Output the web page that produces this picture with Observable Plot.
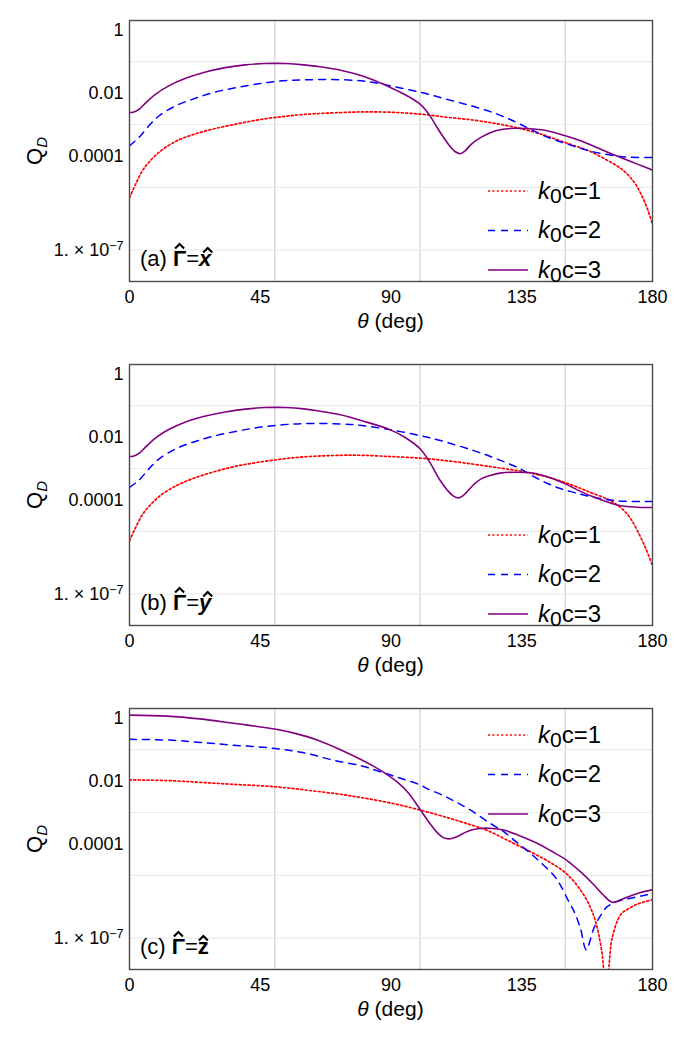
<!DOCTYPE html>
<html>
<head>
<meta charset="utf-8">
<script src="https://cdn.jsdelivr.net/npm/d3@7"></script>
<script src="https://cdn.jsdelivr.net/npm/@observablehq/plot@0.6"></script>
<style>
  html, body { margin: 0; padding: 0; background: #fff; }
  #chart svg { display: block; }
</style>
</head>
<body>
<div id="chart"></div>
<script>
// ---------------- data (theta in degrees, log10 of Q_D) ----------------
const seriesNames = ["k0c=1", "k0c=2", "k0c=3"];
const xTicks = [0, 45, 90, 135, 180];
const xGrid = [50, 100, 150];
const yTicks = [1, 0.01, 1e-4, 1e-7];
const yGrid = [1e-1, 1e-3, 1e-5, 1e-7];
const panelTags = ["(a) ", "(b) ", "(c) "];
const panelVectors = ["x", "y", "z"];

// panel (a)  Γ = x
const aRed = [[0,-5.33],[2.1,-4.9],[4.4,-4.48],[6.6,-4.21],[10.1,-3.89],[15.8,-3.54],[21.6,-3.33],[28.5,-3.15],[36.5,-2.99],[44.5,-2.85],[52.5,-2.75],[60,-2.68],[72.6,-2.62],[80,-2.6],[90,-2.61],[100,-2.67],[109.3,-2.77],[118.5,-2.86],[126,-2.97],[132.2,-3.08],[140,-3.26],[149.5,-3.56],[158.6,-3.86],[164.4,-4.14],[168,-4.33],[171,-4.55],[174,-4.88],[176.5,-5.3],[178.5,-5.75],[180,-6.18]];
const aBlue = [[0,-3.68],[3.2,-3.42],[6.6,-3.05],[10.1,-2.73],[15.8,-2.41],[21.6,-2.2],[28.5,-1.99],[36.5,-1.83],[44.5,-1.7],[52.5,-1.61],[60,-1.58],[70,-1.57],[80,-1.61],[86.4,-1.7],[89.8,-1.77],[100,-1.97],[109.3,-2.2],[118.5,-2.43],[126,-2.65],[132.2,-2.89],[138,-3.15],[143.7,-3.4],[150,-3.6],[155.2,-3.76],[160,-3.88],[166.7,-3.99],[172,-4.04],[180,-4.05]];
const aPurple = [[0,-2.62],[1.5,-2.6],[3.5,-2.5],[5.5,-2.32],[8.9,-2.04],[13.5,-1.77],[19.3,-1.53],[26.2,-1.33],[33,-1.19],[39.9,-1.1],[46.8,-1.06],[53.7,-1.06],[60,-1.1],[64.6,-1.15],[72.6,-1.27],[80,-1.45],[86.4,-1.68],[90,-1.83],[95,-2.06],[100.1,-2.36],[103,-2.67],[105.9,-3.1],[108,-3.4],[110,-3.66],[112,-3.86],[113.9,-3.93],[115.5,-3.84],[117.5,-3.64],[120.8,-3.42],[124.2,-3.26],[128,-3.16],[132.2,-3.12],[137,-3.13],[143.7,-3.2],[150,-3.36],[155.2,-3.52],[160,-3.7],[165,-3.9],[169,-4.05],[175,-4.27],[180,-4.45]];

// panel (b)  Γ = y
const bRed = [[0,-5.3],[2.1,-4.88],[4.4,-4.48],[6.6,-4.22],[10.1,-3.9],[15.8,-3.56],[21.6,-3.33],[28.5,-3.12],[36.5,-2.93],[44.5,-2.8],[52.5,-2.7],[60,-2.63],[72.6,-2.58],[80,-2.58],[89.8,-2.62],[100,-2.67],[107,-2.73],[115,-2.82],[124.2,-2.94],[130,-3.02],[136.8,-3.12],[145,-3.3],[152.9,-3.55],[158,-3.74],[164.4,-3.97],[167.5,-4.14],[170.2,-4.34],[172.5,-4.6],[174.8,-4.98],[177.5,-5.51],[180,-6.09]];
const bBlue = [[0,-3.6],[3.2,-3.38],[6.6,-3.02],[10.1,-2.7],[15.8,-2.38],[21.6,-2.17],[28.5,-1.98],[36.5,-1.82],[44.5,-1.69],[52.5,-1.61],[60,-1.57],[72.6,-1.58],[80,-1.63],[89.8,-1.77],[100,-1.95],[107,-2.11],[118.5,-2.43],[126,-2.68],[134.5,-3.01],[139,-3.25],[143.7,-3.47],[148,-3.63],[152.9,-3.76],[158,-3.88],[164.4,-3.99],[170,-4.04],[180,-4.05]];
const bPurple = [[0,-2.62],[1.5,-2.6],[3.5,-2.5],[5.5,-2.32],[8.9,-2.03],[13.5,-1.76],[19.3,-1.52],[26.2,-1.33],[33,-1.2],[39.9,-1.11],[46.8,-1.06],[53.7,-1.06],[60,-1.1],[64.6,-1.16],[72.6,-1.29],[80,-1.48],[89.8,-1.77],[95,-2.02],[100,-2.37],[103,-2.75],[107,-3.39],[109.5,-3.7],[111.5,-3.88],[113.3,-3.94],[115,-3.85],[118.5,-3.51],[121,-3.33],[124.2,-3.22],[128,-3.14],[132.3,-3.12],[139.2,-3.15],[145,-3.3],[150,-3.49],[155,-3.72],[159.8,-3.91],[164,-4.05],[167.8,-4.16],[172,-4.22],[176,-4.24],[180,-4.24]];

// panel (c)  Γ = z
const cRed = [[0,-1.96],[15,-1.99],[24.3,-2.04],[35,-2.1],[50,-2.18],[62,-2.3],[72.6,-2.42],[80,-2.53],[90,-2.7],[100,-2.92],[110,-3.18],[117,-3.38],[123.1,-3.57],[130,-3.88],[138,-4.25],[144,-4.55],[149.5,-4.88],[153,-5.2],[156.3,-5.62],[158.5,-6.0],[160.4,-6.47],[162.7,-7.53],[164,-9.0],[165.3,-7.6],[166.1,-7.0],[169,-6.26],[172,-6.05],[174.7,-5.92],[177,-5.85],[180,-5.78]];
const cBlue = [[0,-0.67],[15,-0.7],[24.3,-0.77],[35,-0.85],[50,-0.96],[60,-1.1],[70,-1.33],[80,-1.52],[86.3,-1.7],[93,-1.9],[100,-2.12],[102.4,-2.24],[108,-2.46],[112.6,-2.68],[117.3,-2.92],[124.2,-3.35],[128.8,-3.61],[133,-3.93],[138,-4.3],[141.4,-4.58],[146,-5.0],[148.3,-5.31],[151.2,-5.84],[153,-6.15],[155.2,-6.69],[157.2,-7.37],[159.8,-6.69],[162,-6.3],[164.4,-6.0],[168,-5.83],[171.3,-5.75],[175,-5.68],[178.1,-5.62],[180,-5.6]];
const cPurple = [[0,0.10],[13,0.07],[24.3,-0.02],[35.8,-0.16],[50,-0.34],[57,-0.48],[64.6,-0.69],[72.6,-1.0],[80,-1.33],[86.3,-1.65],[92,-2.02],[96,-2.38],[100,-2.9],[103,-3.3],[106,-3.65],[108,-3.8],[109.9,-3.84],[112,-3.8],[115,-3.66],[118,-3.55],[121.9,-3.5],[125,-3.51],[128.8,-3.56],[134,-3.73],[140.3,-3.98],[145,-4.22],[150.6,-4.53],[155,-4.87],[159.8,-5.3],[163,-5.62],[166.1,-5.86],[169,-5.78],[173.5,-5.62],[177,-5.52],[180,-5.46]];

// ---------------- styling ----------------
const FONT = "'Liberation Sans', Arial, Helvetica, sans-serif";
const colors = ["#ff0000", "#0000ff", "#800080"];
const dashes = ["2,2.4", "7,6", null];
const widths = [1.7, 1.5, 1.6];

const rows = arr => arr.map(([t, L]) => ({t, q: Math.pow(10, L)}));
const fmt = d => d === 1e-7 ? "SCI7" : d === 1 ? "1" : d === 0.01 ? "0.01" : "0.0001";
const chart = document.getElementById("chart");

function hat(s, cx, yApex, w, h) {
  s.append("path")
    .attr("d", `M${cx - w / 2},${yApex + h}L${cx},${yApex}L${cx + w / 2},${yApex + h}`)
    .attr("fill", "none").attr("stroke", "#000").attr("stroke-width", 2.1)
    .attr("stroke-linejoin", "miter");
}

function makePanel(seriesList, idx, legendYs) {
  const svg = Plot.plot({
    width: 692, height: 344,
    marginLeft: 129, marginRight: 40, marginTop: 20, marginBottom: 63,
    style: {fontFamily: FONT, color: "#000", background: "#fff"},
    x: {domain: [0, 180]},
    y: {type: "log", domain: [1e-8, 2.05]},
    marks: [
      Plot.gridX(xGrid, {stroke: "#cfcfcf", strokeOpacity: 1, strokeWidth: 1.2}),
      Plot.gridY(yGrid, {stroke: "#ececec", strokeOpacity: 1, strokeWidth: 1.2}),
      ...seriesList.map((arr, i) => Plot.line(rows(arr), {
        x: "t", y: "q", stroke: colors[i], strokeWidth: widths[i],
        strokeDasharray: dashes[i], curve: "catmull-rom", clip: true
      })),
      Plot.frame({stroke: "#4a4a4a", strokeWidth: 1.4}),
      Plot.axisX(xTicks, {tickSize: 0, tickPadding: 9, fontSize: 18, label: null}),
      Plot.axisY(yTicks, {tickSize: 0, tickPadding: 6, fontSize: 18, label: null, tickFormat: fmt})
    ]
  });
  chart.append(svg);
  const s = d3.select(svg);
  // scientific tick label
  s.selectAll("text").filter(function() { return this.textContent === "SCI7"; })
    .each(function() {
      const t = d3.select(this);
      t.text("");
      t.append("tspan").text("1. \u00d7 10");
      t.append("tspan").attr("dy", "-0.45em").attr("font-size", 12.5).text("\u22127");
    });
  // y label
  const yl = s.append("text").attr("transform", "translate(42,151) rotate(-90)")
    .attr("text-anchor", "middle").attr("font-size", 22).attr("font-family", FONT);
  yl.append("tspan").text("Q");
  yl.append("tspan").attr("dy", 5).attr("font-size", 15).attr("font-style", "italic").text("D");
  // x label
  const xl = s.append("text").attr("x", 390.5).attr("y", 328).attr("text-anchor", "middle")
    .attr("font-size", 21).attr("font-family", FONT);
  xl.append("tspan").attr("font-style", "italic").text("\u03b8");
  xl.append("tspan").text(" (deg)");
  // panel tag  (a) Γ̂ = x̂
  const x0 = 140, base = 266;
  const tg = s.append("text").attr("x", x0).attr("y", base).attr("text-anchor", "start")
    .attr("font-size", 22).attr("font-family", FONT).style("white-space", "pre");
  const t1 = tg.append("tspan").text(panelTags[idx]);
  const t2 = tg.append("tspan").attr("font-weight", "bold").text("\u0393");
  const t3 = tg.append("tspan").text("=");
  const t4 = tg.append("tspan").attr("font-weight", "bold").attr("font-style", idx < 2 ? "italic" : "normal").text(panelVectors[idx]);
  const l1 = t1.node().getComputedTextLength();
  const l2 = t2.node().getComputedTextLength();
  const l3 = t3.node().getComputedTextLength();
  const l4 = t4.node().getComputedTextLength();
  hat(s, x0 + l1 + l2 * 0.5, base - 22, 9, 4.5);
  hat(s, x0 + l1 + l2 + l3 + l4 * 0.5 + (idx < 2 ? 2.5 : 0), base - 18, 9, 4.5);
  // legend
  legendYs.forEach((y, i) => {
    s.append("line").attr("x1", 488).attr("x2", 528).attr("y1", y).attr("y2", y)
      .attr("stroke", colors[i]).attr("stroke-width", widths[i])
      .attr("stroke-dasharray", dashes[i]);
    const lt = s.append("text").attr("x", 538).attr("y", y + 7.5).attr("text-anchor", "start")
      .attr("font-size", 24).attr("font-family", FONT);
    lt.append("tspan").attr("font-style", "italic").text("k");
    lt.append("tspan").attr("dy", 4).attr("font-size", 21).text("0");
    lt.append("tspan").attr("dy", -4).text(seriesNames[i].slice(2));
  });
  return svg;
}

makePanel([aRed, aBlue, aPurple], 0, [191, 230.5, 270]);
makePanel([bRed, bBlue, bPurple], 1, [191, 230.5, 270]);
makePanel([cRed, cBlue, cPurple], 2, [47, 86.5, 126]);
</script>
</body>
</html>
